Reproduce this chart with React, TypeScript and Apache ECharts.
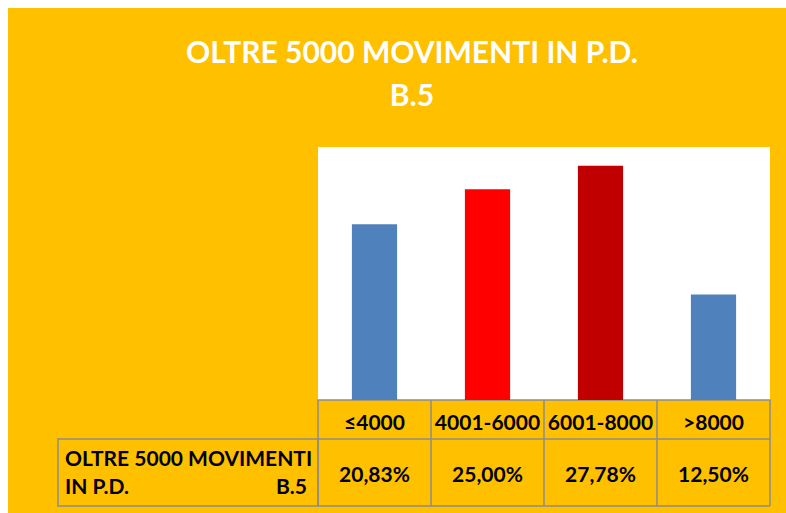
import React, { useEffect, useRef } from "react";
import * as echarts from "echarts";

const categories = ["≤4000", "4001-6000", "6001-8000", ">8000"];
const values = [20.83, 25.0, 27.78, 12.5];
const valueLabels = ["20,83%", "25,00%", "27,78%", "12,50%"];
const barColors = ["#4F81BD", "#FF0000", "#C00000", "#4F81BD"];
const titleLines = ["OLTRE 5000 MOVIMENTI IN P.D.", "B.5"];
const rowHeaderLines = ["OLTRE 5000 MOVIMENTI", "IN P.D."];
const rowHeaderCode = "B.5";

const W = 778;
const H = 505;
const GL = 310;
const GR = 762;
const GT = 139;
const GB = 392;
const ROW1 = 431;
const ROW2 = 498;
const HEAD_L = 50;
const FONT = "Lato, 'Open Sans', sans-serif";
const BORDER = "#8C8C8C";

export default function App() {
  const ref = useRef<HTMLDivElement>(null);
  useEffect(() => {
    if (!ref.current) return;
    const chart = echarts.init(ref.current, undefined, { renderer: "svg" });
    chart.setOption({
      animation: false,
      backgroundColor: "#FFC000",
      textStyle: { fontFamily: FONT },
      title: {
        text: titleLines.join("\n"),
        left: 399,
        top: 16,
        textAlign: "center",
        textStyle: {
          color: "#FFFFFF",
          fontWeight: "bold",
          fontSize: 30,
          lineHeight: 43,
          fontFamily: FONT,
        },
      },
      grid: {
        left: GL,
        right: W - GR,
        top: GT,
        bottom: H - GB,
        show: true,
        backgroundColor: "#FFFFFF",
        borderWidth: 0,
      },
      xAxis: [
        {
          type: "category",
          data: categories,
          position: "bottom",
          axisLine: { show: true, lineStyle: { color: BORDER, width: 1.5 } },
          axisTick: {
            show: true,
            interval: 0,
            alignWithLabel: false,
            length: ROW2 - GB,
            lineStyle: { color: BORDER, width: 1.5 },
          },
          axisLabel: {
            interval: 0,
            color: "#000",
            fontWeight: "bold",
            fontSize: 21,
            fontFamily: FONT,
            margin: 21,
            verticalAlign: "middle",
          },
        },
        {
          type: "category",
          data: categories,
          position: "bottom",
          axisLine: { show: false },
          axisTick: { show: false },
          axisLabel: {
            interval: 0,
            color: "#000",
            fontWeight: "bold",
            fontSize: 21,
            fontFamily: FONT,
            margin: 73,
            verticalAlign: "middle",
            formatter: (_v: string, i: number) => valueLabels[i],
          },
        },
      ],
      yAxis: {
        type: "value",
        min: 0,
        max: 30,
        show: false,
        splitLine: { show: false },
      },
      series: [
        {
          type: "bar",
          xAxisIndex: 0,
          barWidth: "40%",
          data: values.map((v, i) => ({ value: v, itemStyle: { color: barColors[i] } })),
        },
      ],
      graphic: [
        {
          type: "line",
          shape: { x1: GL, y1: ROW1, x2: GR, y2: ROW1 },
          style: { stroke: BORDER, lineWidth: 1.5 },
        },
        {
          type: "line",
          shape: { x1: GL, y1: ROW2, x2: GR, y2: ROW2 },
          style: { stroke: BORDER, lineWidth: 1.5 },
        },
        {
          type: "rect",
          shape: { x: HEAD_L, y: ROW1, width: GL - HEAD_L, height: ROW2 - ROW1 },
          style: { fill: "none", stroke: BORDER, lineWidth: 1.5 },
        },
        {
          type: "text",
          x: HEAD_L + 7,
          y: 449,
          style: {
            text: rowHeaderLines[0],
            fill: "#000",
            font: `bold 21px ${FONT}`,
            textAlign: "left",
            textVerticalAlign: "middle",
          },
        },
        {
          type: "text",
          x: HEAD_L + 7,
          y: 477,
          style: {
            text: rowHeaderLines[1],
            fill: "#000",
            font: `bold 21px ${FONT}`,
            textAlign: "left",
            textVerticalAlign: "middle",
          },
        },
        {
          type: "text",
          x: 299,
          y: 477,
          style: {
            text: rowHeaderCode,
            fill: "#000",
            font: `bold 21px ${FONT}`,
            textAlign: "right",
            textVerticalAlign: "middle",
          },
        },
      ],
    });
    return () => chart.dispose();
  }, []);
  return (
    <div
      ref={ref}
      style={{ position: "absolute", left: 8, top: 8, width: W, height: H }}
    />
  );
}
